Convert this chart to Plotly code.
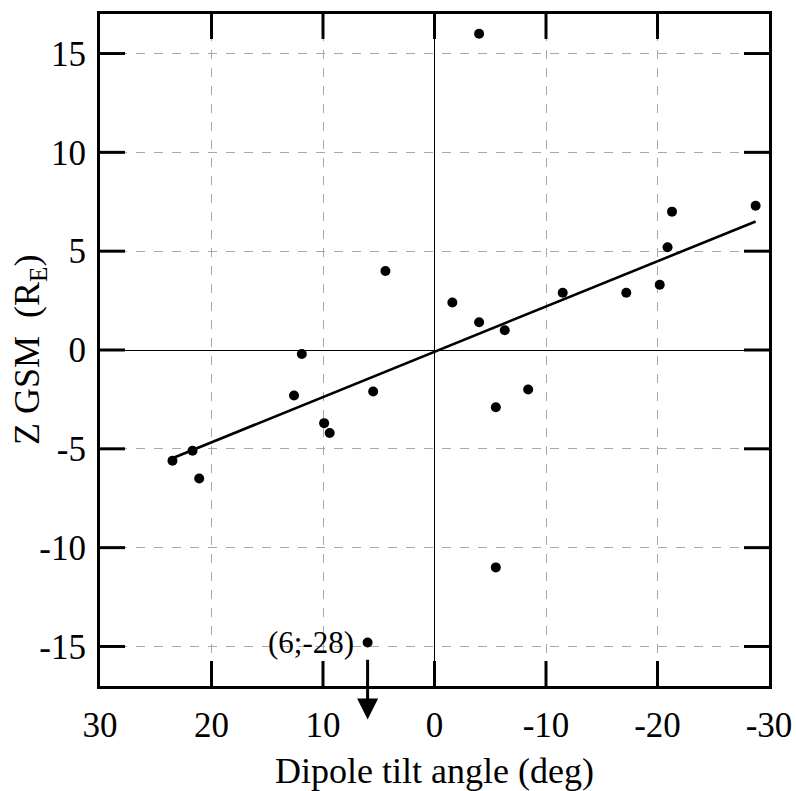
import plotly.graph_objects as go

# Dipole tilt angle (deg) and Z GSM (R_E) of the observed crossings
tilt_deg = [23.5, 21.7, 21.1, 12.6, 11.9, 9.9, 9.4, 5.5, 4.4, -1.6, -4.0,
            -4.0, -6.3, -8.4, -5.5, -5.5, -11.5, -17.2, -20.2, -20.9, -21.3, -28.8]
z_gsm = [-5.6, -5.1, -6.5, -2.3, -0.2, -3.7, -4.2, -2.1, 4.0, 2.4, 1.4,
         16.0, 1.0, -2.0, -2.9, -11.0, 2.9, 2.9, 3.3, 5.2, 7.0, 7.3]

# Off-scale event, shown pinned near the bottom edge with an arrow
outlier_tilt = 6
outlier_z = -28
outlier_z_shown = -14.8

# Linear fit  z = a + b * tilt
fit_a = -0.09
fit_b = -0.229
fit_x = [23.4, -28.8]
fit_y = [fit_a + fit_b * x for x in fit_x]

x_ticks = [30, 20, 10, 0, -10, -20, -30]
y_ticks = [-15, -10, -5, 0, 5, 10, 15]
x_range = [30, -30]
y_range = [-17, 17]

FONT = "Liberation Serif"
W, H = 796, 791
ML, MR, MT, MB = 100, 27, 14, 105
PW, PH = W - ML - MR, H - MT - MB
TICK_PX = 25

fig = go.Figure()

fig.add_trace(go.Scatter(x=fit_x, y=fit_y, mode="lines",
                         line=dict(color="black", width=2.6),
                         showlegend=False, hoverinfo="skip"))
fig.add_trace(go.Scatter(x=tilt_deg, y=z_gsm, mode="markers",
                         marker=dict(color="black", size=10, symbol="circle"),
                         showlegend=False))
fig.add_trace(go.Scatter(x=[outlier_tilt], y=[max(outlier_z, outlier_z_shown)],
                         mode="markers",
                         marker=dict(color="black", size=10, symbol="circle"),
                         showlegend=False, cliponaxis=False))

# heavy inward tick marks on all four sides of the frame, one segment each
dx = TICK_PX * abs(x_range[1] - x_range[0]) / PW
dy = TICK_PX * abs(y_range[1] - y_range[0]) / PH
tick_style = dict(color="black", width=3)
for y_edge, y_in in ((y_range[0], y_range[0] + dy), (y_range[1], y_range[1] - dy)):
    for v in x_ticks[1:-1]:
        fig.add_trace(go.Scatter(x=[v, v], y=[y_edge, y_in], mode="lines",
                                 line=tick_style, showlegend=False,
                                 hoverinfo="skip"))
for x_edge, x_in in ((x_range[0], x_range[0] - dx), (x_range[1], x_range[1] + dx)):
    for v in y_ticks:
        fig.add_trace(go.Scatter(x=[x_edge, x_in], y=[v, v], mode="lines",
                                 line=tick_style, showlegend=False,
                                 hoverinfo="skip"))

# label and downward arrow for the off-scale point
fig.add_annotation(x=outlier_tilt, y=outlier_z_shown,
                   text=f"({outlier_tilt};{outlier_z})", showarrow=False,
                   xanchor="right", yanchor="middle", xshift=-12,
                   font=dict(family=FONT, size=31, color="black"))
fig.add_annotation(x=outlier_tilt, y=-18.7, ax=outlier_tilt, ay=-15.6,
                   xref="x", yref="y", axref="x", ayref="y",
                   text="", showarrow=True, arrowhead=2, arrowsize=1.4,
                   arrowwidth=3, arrowcolor="black")

# axis titles
fig.add_annotation(x=0.5, y=-(771 - (H - MB)) / PH, xref="paper", yref="paper",
                   text="Dipole tilt angle (deg)", showarrow=False,
                   yanchor="middle", xanchor="center",
                   font=dict(family=FONT, size=36, color="black"))
fig.add_annotation(x=-(ML - 29) / PW, y=0.5, xref="paper", yref="paper",
                   text="Z GSM\u00a0\u00a0(R<sub>E</sub>)", showarrow=False,
                   textangle=-90, xanchor="center", yanchor="middle",
                   font=dict(family=FONT, size=36, color="black"))

axis_common = dict(
    showline=True, linecolor="black", linewidth=3, mirror=True, ticks="",
    showgrid=True, gridcolor="#a8a8a8", gridwidth=1, griddash="dash",
    zeroline=True, zerolinecolor="black", zerolinewidth=1,
    tickfont=dict(family=FONT, size=35, color="black"),
)

fig.update_xaxes(range=x_range, tickvals=x_ticks,
                 ticktext=[str(v) for v in x_ticks], ticklabelstandoff=6,
                 **axis_common)
fig.update_yaxes(range=y_range, tickvals=y_ticks,
                 ticktext=[str(v) for v in y_ticks], ticklabelstandoff=4,
                 **axis_common)

fig.update_layout(width=W, height=H,
                  margin=dict(l=ML, r=MR, t=MT, b=MB, autoexpand=False),
                  plot_bgcolor="white", paper_bgcolor="white")

fig.write_html("out.html")
